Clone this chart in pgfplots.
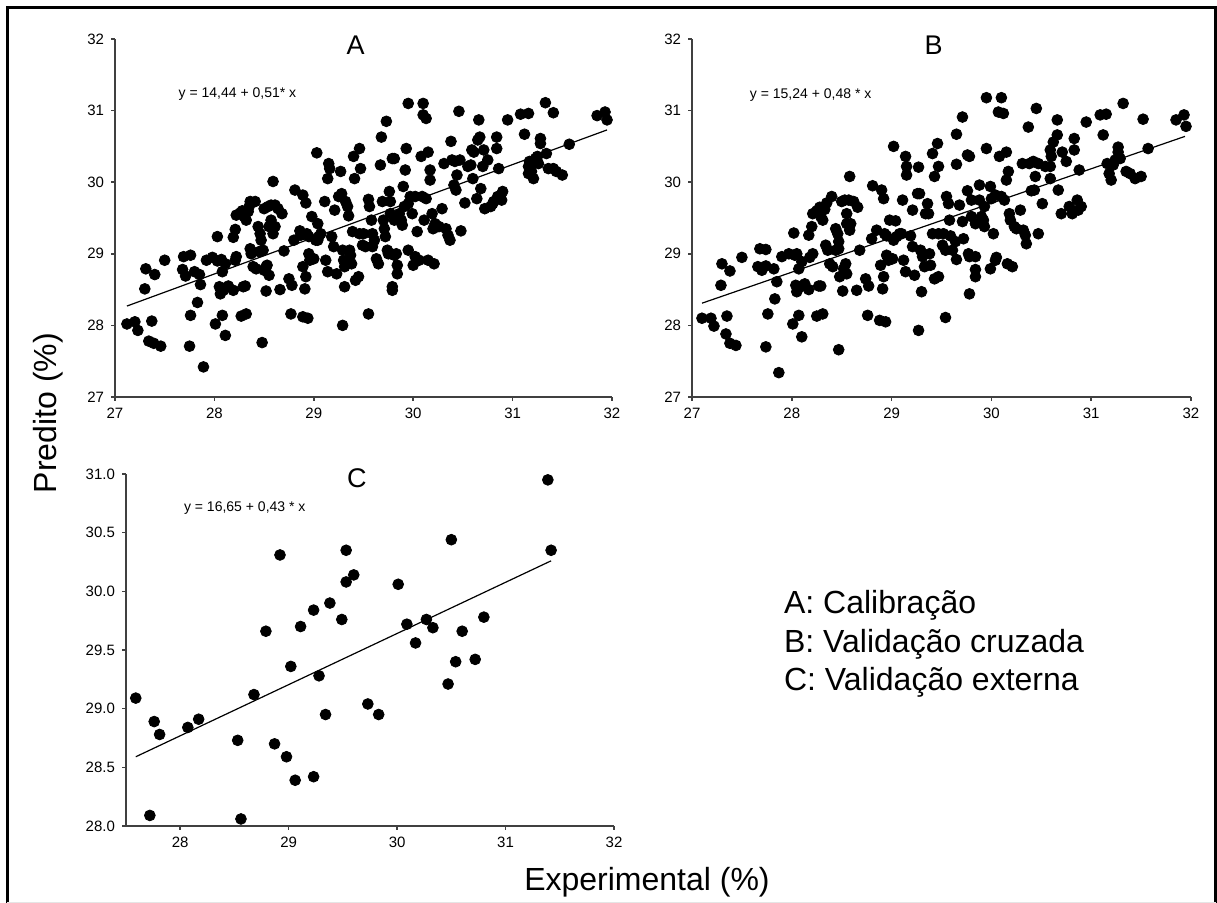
\documentclass[border=0pt]{standalone}
\usepackage{fontspec}
\setmainfont{Liberation Sans}
\usepackage{pgfplots}
\pgfplotsset{compat=1.18}

\pgfplotsset{
  panel/.style={
    scale only axis,
    anchor=south west,
    axis x line*=bottom, axis y line*=left,
    axis line style={-, draw=black!75, line width=0.8pt},
    tick style={draw=black!75, line width=0.8pt},
    tick align=outside,
    major tick length=2pt,
    ticklabel style={font=\fontsize{7.5}{9}\selectfont},
    /pgf/number format/assume math mode=true,
    clip=false,
  },
  dots/.style={only marks, mark=*, mark size=2.7pt, mark options={fill=black, draw=black}},
  fitline/.style={black, line width=0.6pt, no marks},
}
\tikzset{
  ttl/.style={font=\fontsize{13.5}{15}\selectfont},
  eqn/.style={font=\fontsize{7}{8}\selectfont, anchor=west},
}

\begin{document}
\begin{tikzpicture}[x=1pt,y=1pt]
\useasboundingbox (0,0) rectangle (608.5,451.5);
\draw[line width=1.5pt] (3.5,0) -- (3.5,447.5) -- (607.8,447.5) -- (607.8,0);
\draw[black!10, line width=0.5pt] (3.5,0.3) -- (607.8,0.3);

% ---------- A: calibracao
\begin{axis}[panel, at={(57.5pt,253pt)}, width=248.5pt, height=179pt,
  xmin=27, xmax=32, ymin=27, ymax=32, xtick={27,...,32}, ytick={27,...,32}]
\addplot[dots] coordinates {
(27.12,28.02) (27.20,28.05) (27.23,27.93) (27.31,28.79) (27.30,28.51) (27.37,28.06)
(27.40,28.71) (27.34,27.78) (27.39,27.75) (27.46,27.71) (27.50,28.91) (27.68,28.78)
(27.69,28.96) (27.76,28.98) (27.71,28.69) (27.80,28.75) (27.85,28.71) (27.86,28.57)
(27.83,28.32) (27.76,28.14) (27.75,27.71) (27.89,27.42) (27.92,28.91) (27.98,28.95)
(28.03,28.90) (28.07,28.92) (28.08,28.75) (28.11,28.86) (28.03,29.24) (28.05,28.54)
(28.06,28.44) (28.09,28.49) (28.14,28.55) (28.19,28.49) (28.08,28.14) (28.11,27.86)
(28.01,28.02) (28.21,28.91) (28.22,28.96) (28.19,29.23) (28.21,29.34) (28.22,29.54)
(28.26,29.57) (28.28,29.60) (28.30,29.52) (28.32,29.47) (28.34,29.59) (28.35,29.66)
(28.36,29.73) (28.41,29.73) (28.27,28.13) (28.32,28.16) (28.29,28.54) (28.31,28.55)
(28.36,29.07) (28.37,29.00) (28.39,28.82) (28.42,28.79) (28.44,29.38) (28.46,29.28)
(28.47,29.19) (28.45,29.03) (28.50,28.77) (28.52,28.82) (28.53,28.84) (28.55,28.70)
(28.49,29.05) (28.52,28.48) (28.48,27.76) (28.50,29.63) (28.54,29.66) (28.57,29.68)
(28.61,29.68) (28.64,29.63) (28.68,29.56) (28.59,30.01) (28.57,29.47) (28.59,29.28)
(28.55,29.38) (28.61,29.38) (28.66,28.50) (28.70,29.04) (28.75,28.65) (28.78,28.56)
(28.77,28.16) (28.81,29.89) (28.80,29.19) (28.86,29.32) (28.87,29.26) (28.89,29.82)
(28.92,29.71) (28.93,29.28) (28.95,29.24) (28.89,28.82) (28.92,28.68) (28.91,28.51)
(28.89,28.12) (28.94,28.10) (28.95,29.00) (28.96,28.91) (28.98,29.52) (29.00,28.93)
(29.02,29.19) (29.03,30.41) (29.04,29.42) (29.04,29.19) (29.05,29.24) (29.07,29.28)
(29.11,29.73) (29.12,28.91) (29.14,28.75) (29.14,30.05) (29.15,30.26) (29.16,30.19)
(29.18,29.24) (29.20,29.10) (29.21,29.61) (29.23,28.72) (29.25,29.80) (29.27,30.15)
(29.28,29.84) (29.29,29.05) (29.29,28.00) (29.31,28.54) (29.30,28.91) (29.31,28.82)
(29.32,29.73) (29.34,29.66) (29.35,29.53) (29.36,29.05) (29.37,28.98) (29.38,28.86)
(29.39,29.31) (29.40,30.36) (29.41,30.05) (29.42,28.63) (29.45,28.68) (29.46,30.47)
(29.47,30.19) (29.46,29.28) (29.49,29.12) (29.50,29.28) (29.52,29.10) (29.55,28.16)
(29.55,29.76) (29.56,29.66) (29.58,29.47) (29.59,29.28) (29.59,29.10) (29.61,29.19)
(29.63,28.93) (29.65,28.86) (29.67,30.24) (29.68,30.63) (29.69,29.73) (29.70,29.47)
(29.71,29.35) (29.72,29.24) (29.73,30.85) (29.74,29.05) (29.75,29.00) (29.76,29.87)
(29.77,29.73) (29.77,29.56) (29.79,30.33) (29.81,30.33) (29.81,29.47) (29.78,29.00)
(29.81,28.98) (29.83,29.00) (29.84,28.84) (29.84,28.72) (29.79,28.54) (29.79,28.49)
(29.86,29.56) (29.88,29.47) (29.89,29.40) (29.90,29.94) (29.91,29.66) (29.92,30.17)
(29.93,30.47) (29.95,29.05) (29.95,31.10) (29.95,29.70) (29.97,29.80) (29.99,29.56)
(30.00,28.84) (30.02,29.80) (30.02,28.96) (30.04,29.31) (30.06,28.91) (30.08,30.36)
(30.09,29.80) (30.10,31.10) (30.10,30.94) (30.11,29.47) (30.13,30.89) (30.13,29.77)
(30.15,30.42) (30.15,28.91) (30.17,30.17) (30.17,30.03) (30.19,29.56) (30.20,29.35)
(30.21,28.86) (30.22,29.42) (30.24,29.38) (30.26,29.38) (30.29,29.63) (30.31,30.26)
(30.33,29.35) (30.35,29.26) (30.37,29.19) (30.38,30.57) (30.39,30.31) (30.41,29.96)
(30.42,30.29) (30.43,29.89) (30.44,30.10) (30.46,30.99) (30.47,30.31) (30.48,29.32)
(30.52,29.71) (30.55,30.22) (30.58,30.24) (30.59,30.45) (30.60,30.05) (30.61,30.42)
(30.64,29.77) (30.65,30.59) (30.66,30.87) (30.67,30.63) (30.68,29.91) (30.70,30.22)
(30.71,30.45) (30.72,29.63) (30.75,30.31) (30.78,29.66) (30.80,29.70) (30.81,29.73)
(30.84,30.63) (30.84,30.47) (30.85,29.80) (30.86,30.19) (30.89,29.75) (30.90,29.87)
(30.95,30.87) (31.08,30.95) (31.16,30.96) (31.12,30.67) (31.17,30.29) (31.19,30.15)
(31.21,30.05) (31.23,30.33) (31.25,30.36) (31.26,30.26) (31.28,30.61) (31.28,30.54)
(31.33,31.11) (31.34,30.40) (31.36,30.19) (31.41,30.19) (31.44,30.15) (31.50,30.10)
(31.41,30.97) (31.57,30.53) (31.85,30.93) (31.93,30.98) (31.95,30.87)
(31.16,30.22) (31.19,30.26) (31.16,30.12)
};
\addplot[fitline] coordinates {(27.12,28.27) (31.95,30.73)};
\node[ttl] at (axis cs:29.42,31.91) {A};
\node[eqn] at (axis cs:27.57,31.23) {y = 14,44 + 0,51* x};
\end{axis}

% ---------- B: validacao cruzada
\begin{axis}[panel, at={(346pt,253pt)}, width=249.5pt, height=179pt,
  xmin=27, xmax=32, ymin=27, ymax=32, xtick={27,...,32}, ytick={27,...,32}]
\addplot[dots] coordinates {
(27.10,28.10) (27.19,28.10) (27.22,27.99) (27.30,28.86) (27.29,28.56) (27.35,28.13)
(27.38,28.76) (27.34,27.88) (27.38,27.75) (27.44,27.72) (27.50,28.95) (27.66,28.82)
(27.68,29.07) (27.74,29.06) (27.70,28.77) (27.74,28.83) (27.82,28.79) (27.85,28.61)
(27.83,28.37) (27.76,28.16) (27.74,27.70) (27.87,27.34) (27.90,28.96) (27.97,29.00)
(28.03,28.98) (28.05,29.00) (28.07,28.79) (28.10,28.89) (28.02,29.29) (28.04,28.56)
(28.05,28.47) (28.09,28.54) (28.13,28.58) (28.17,28.50) (28.07,28.14) (28.10,27.84)
(28.01,28.02) (28.18,28.95) (28.21,29.00) (28.17,29.26) (28.20,29.38) (28.21,29.56)
(28.25,29.60) (28.28,29.65) (28.29,29.52) (28.31,29.47) (28.33,29.62) (28.35,29.71)
(28.40,29.80) (28.25,28.13) (28.31,28.16) (28.27,28.55) (28.29,28.55) (28.34,29.12)
(28.36,29.05) (28.38,28.86) (28.41,28.82) (28.44,29.35) (28.46,29.28) (28.47,29.17)
(28.44,29.05) (28.48,28.68) (28.52,28.79) (28.54,28.86) (28.55,28.72) (28.47,29.07)
(28.51,28.48) (28.47,27.66) (28.50,29.73) (28.53,29.75) (28.57,29.75) (28.62,29.73)
(28.66,29.65) (28.58,30.08) (28.55,29.56) (28.58,29.33) (28.55,29.42) (28.59,29.42)
(28.65,28.49) (28.68,29.05) (28.74,28.65) (28.77,28.55) (28.76,28.14) (28.81,29.95)
(28.80,29.21) (28.85,29.33) (28.90,29.89) (28.92,29.77) (28.93,29.28) (28.95,29.25)
(28.89,28.84) (28.92,28.68) (28.91,28.51) (28.88,28.07) (28.94,28.05) (28.95,28.98)
(28.97,28.91) (28.98,29.47) (29.01,28.93) (29.02,29.19) (29.02,30.50) (29.04,29.46)
(29.05,29.24) (29.08,29.28) (29.10,29.28) (29.11,29.75) (29.12,28.91) (29.14,28.75)
(29.15,30.10) (29.14,30.36) (29.15,30.22) (29.19,29.25) (29.21,29.10) (29.21,29.61)
(29.23,28.70) (29.26,29.84) (29.27,30.21) (29.28,29.84) (29.29,29.05) (29.27,27.93)
(29.30,28.47) (29.31,28.96) (29.33,28.82) (29.34,29.56) (29.36,29.70) (29.37,29.56)
(29.38,29.00) (29.39,28.84) (29.41,29.28) (29.41,30.40) (29.43,30.08) (29.43,28.65)
(29.47,28.68) (29.46,30.54) (29.47,30.22) (29.47,29.28) (29.51,29.12) (29.52,29.28)
(29.54,29.05) (29.54,28.11) (29.55,29.80) (29.57,29.70) (29.58,29.47) (29.59,29.25)
(29.61,29.05) (29.64,29.17) (29.65,28.92) (29.65,30.25) (29.65,30.67) (29.71,30.91)
(29.68,29.68) (29.71,29.45) (29.72,29.21) (29.76,29.88) (29.77,29.00) (29.78,28.96)
(29.80,29.75) (29.80,29.52) (29.76,30.38) (29.78,30.36) (29.84,29.42) (29.84,28.96)
(29.84,28.78) (29.84,28.68) (29.78,28.44) (29.88,29.75) (29.90,29.52) (29.92,29.47)
(29.93,29.38) (29.88,29.96) (29.93,29.66) (29.95,30.47) (29.95,31.18) (29.99,29.94)
(30.00,29.77) (30.02,29.28) (29.99,28.79) (30.04,29.82) (30.04,28.91) (30.05,28.95)
(30.08,30.36) (30.10,29.80) (30.10,31.18) (30.07,30.98) (30.12,30.96) (30.13,29.75)
(30.15,30.42) (30.16,28.86) (30.17,30.15) (30.15,30.03) (30.18,29.56) (30.19,29.47)
(30.21,28.82) (30.23,29.38) (30.25,29.35) (30.29,29.61) (30.31,30.26) (30.32,29.33)
(30.34,29.26) (30.35,29.14) (30.37,30.77) (30.38,30.26) (30.40,29.88) (30.42,30.29)
(30.43,29.89) (30.44,30.08) (30.45,31.03) (30.47,30.26) (30.47,29.28) (30.51,29.70)
(30.54,30.22) (30.59,30.22) (30.59,30.45) (30.59,30.05) (30.60,30.36) (30.62,30.56)
(30.66,30.87) (30.66,30.66) (30.67,29.89) (30.70,29.56) (30.71,30.42) (30.75,30.29)
(30.78,29.66) (30.81,29.56) (30.83,30.61) (30.83,30.45) (30.86,29.75) (30.87,29.61)
(30.88,30.17) (30.90,29.66) (30.95,30.84) (31.09,30.94) (31.15,30.95) (31.12,30.66)
(31.16,30.26) (31.18,30.12) (31.20,30.03) (31.22,30.24) (31.24,30.31) (31.27,30.49)
(31.27,30.42) (31.32,31.10) (31.29,30.33) (31.35,30.15) (31.39,30.12) (31.44,30.05)
(31.50,30.08) (31.52,30.88) (31.57,30.47) (31.85,30.87) (31.93,30.94) (31.95,30.78)
};
\addplot[fitline] coordinates {(27.10,28.31) (31.94,30.64)};
\node[ttl] at (axis cs:29.42,31.91) {B};
\node[eqn] at (axis cs:27.51,31.22) {y = 15,24 + 0,48 * x};
\end{axis}

% ---------- C: validacao externa
\begin{axis}[panel, at={(63pt,38.5pt)}, width=244pt, height=176pt,
  xmin=27.5, xmax=32, ymin=28, ymax=31, xtick={28,...,32}, ytick={28,28.5,...,31},
  yticklabel style={/pgf/number format/.cd, fixed, fixed zerofill, precision=1}]
\addplot[dots] coordinates {
(27.59,29.09) (27.72,28.09) (27.76,28.89) (27.81,28.78) (28.07,28.84) (28.17,28.91)
(28.53,28.73) (28.56,28.06) (28.68,29.12) (28.79,29.66) (28.87,28.70) (28.92,30.31)
(28.98,28.59) (29.02,29.36) (29.06,28.39) (29.11,29.70) (29.23,29.84) (29.23,28.42)
(29.28,29.28) (29.34,28.95) (29.38,29.90) (29.49,29.76) (29.53,30.35) (29.53,30.08)
(29.60,30.14) (29.73,29.04) (29.83,28.95) (30.01,30.06) (30.09,29.72) (30.17,29.56)
(30.27,29.76) (30.33,29.69) (30.47,29.21) (30.50,30.44) (30.54,29.40) (30.60,29.66)
(30.72,29.42) (30.80,29.78) (31.39,30.95) (31.42,30.35)
};
\addplot[fitline] coordinates {(27.59,28.59) (31.42,30.26)};
\node[ttl] at (axis cs:29.63,30.96) {C};
\node[eqn] at (axis cs:27.97,30.71) {y = 16,65 + 0,43 * x};
\end{axis}

% ---------- labels and key
\node[rotate=90, font=\fontsize{16}{19}\selectfont] at (24,245) {Predito (\%)};
\node[anchor=base, font=\fontsize{16}{19}\selectfont] at (323.5,6) {Experimental (\%)};
\begin{scope}[every node/.style={anchor=base west, font=\fontsize{16}{19}\selectfont}]
\node at (388.5,144.5) {A: Calibração};
\node at (388.5,125) {B: Validação cruzada};
\node at (388.5,106) {C: Validação externa};
\end{scope}
\end{tikzpicture}
\end{document}
